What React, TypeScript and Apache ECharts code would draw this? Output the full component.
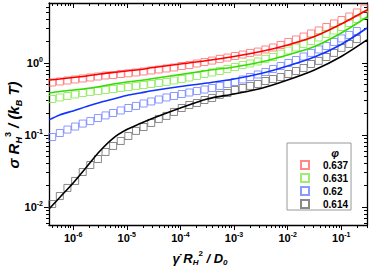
import React, { useEffect, useRef } from 'react';
import * as echarts from 'echarts';

// ---- data ----
const markerShear = [4.07e-7, 5.65e-7, 7.83e-7, 1.09e-6, 1.51e-6, 2.09e-6, 2.9e-6, 4.02e-6, 5.57e-6, 7.73e-6, 1.07e-5, 1.49e-5, 2.06e-5, 2.86e-5, 3.96e-5, 5.5e-5, 7.62e-5, 1.06e-4, 1.47e-4, 2.03e-4, 2.82e-4, 3.91e-4, 5.42e-4, 7.52e-4, 1.04e-3, 1.45e-3, 2.0e-3, 2.78e-3, 3.85e-3, 5.35e-3, 7.41e-3, 1.03e-2, 1.43e-2, 1.98e-2, 2.74e-2, 3.8e-2, 5.27e-2, 7.31e-2, 0.101, 0.141, 0.195, 0.27];

const sigma637 = [0.536, 0.553, 0.571, 0.59, 0.609, 0.629, 0.649, 0.67, 0.681, 0.703, 0.719, 0.738, 0.762, 0.787, 0.812, 0.839, 0.866, 0.908, 0.938, 0.984, 1.03, 1.08, 1.14, 1.19, 1.25, 1.31, 1.38, 1.44, 1.54, 1.64, 1.78, 1.96, 2.12, 2.33, 2.57, 2.83, 3.16, 3.54, 3.95, 4.42, 5.03, 5.71];
const sigma631 = [0.316, 0.332, 0.348, 0.365, 0.383, 0.396, 0.408, 0.422, 0.435, 0.45, 0.464, 0.48, 0.495, 0.511, 0.527, 0.545, 0.571, 0.599, 0.629, 0.66, 0.703, 0.738, 0.774, 0.826, 0.88, 0.938, 0.984, 1.05, 1.14, 1.21, 1.35, 1.49, 1.64, 1.84, 2.02, 2.26, 2.53, 2.83, 3.16, 3.59, 4.08, 4.64];
const sigma62 = [0.0938, 0.1066, 0.119, 0.131, 0.144, 0.156, 0.172, 0.187, 0.202, 0.219, 0.237, 0.253, 0.274, 0.292, 0.311, 0.332, 0.348, 0.371, 0.389, 0.408, 0.428, 0.45, 0.48, 0.511, 0.545, 0.59, 0.639, 0.692, 0.75, 0.826, 0.908, 1.0, 1.1, 1.23, 1.38, 1.54, 1.72, 1.96, 2.19, 2.45, 2.78];
const sigma614 = [0.011, 0.0142, 0.0184, 0.023, 0.0306, 0.0383, 0.0464, 0.0581, 0.0704, 0.0826, 0.0969, 0.114, 0.129, 0.147, 0.167, 0.184, 0.209, 0.237, 0.261, 0.278, 0.306, 0.327, 0.36, 0.383, 0.422, 0.45, 0.48, 0.511, 0.562, 0.599, 0.639, 0.703, 0.774, 0.853, 0.968, 1.07, 1.21, 1.38, 1.62, 1.84, 2.15];

const fitShear = [3.55e-7, 5.62e-7, 1e-6, 1.78e-6, 3.16e-6, 5.62e-6, 1e-5, 1.78e-5, 3.16e-5, 1e-4, 3.16e-4, 1e-3, 3.16e-3, 1e-2, 3.16e-2, 0.1, 0.302];
const fit637 = [0.58, 0.599, 0.629, 0.66, 0.703, 0.738, 0.774, 0.812, 0.866, 0.969, 1.08, 1.23, 1.44, 1.78, 2.33, 3.48, 5.44];
const fit631 = [0.383, 0.402, 0.422, 0.442, 0.472, 0.511, 0.545, 0.571, 0.609, 0.692, 0.787, 0.88, 1.03, 1.29, 1.69, 2.61, 4.35];
const fit62 = [0.162, 0.19, 0.216, 0.249, 0.283, 0.316, 0.354, 0.383, 0.415, 0.472, 0.527, 0.599, 0.715, 0.908, 1.21, 1.81, 3.06];
const fit614 = [0.00938, 0.01355, 0.0216, 0.036, 0.06, 0.0908, 0.119, 0.144, 0.172, 0.237, 0.316, 0.371, 0.442, 0.58, 0.799, 1.23, 2.09];

const phiNames = ['0.637', '0.631', '0.62', '0.614'];
const xDecades = [-6, -5, -4, -3, -2, -1];
const yDecades = [-2, -1, 0];

const X_MIN = -6.45, X_MAX = -0.52, Y_MIN = -2.25, Y_MAX = 0.833;
const FONT = "'Liberation Sans', Arial, sans-serif";

const lineColors = ['#ff0000', '#33dd00', '#1133ff', '#000000'];
const markColors = ['#ff6a6a', '#86e84e', '#6f80ff', '#6a6a6a'];

function minorTicks(min: number, max: number) {
  const out: number[] = [];
  for (let d = Math.floor(min) - 1; d <= Math.ceil(max); d++) {
    for (let k = 2; k <= 9; k++) {
      const v = d + Math.log10(k);
      if (v > min && v < max) out.push(v);
    }
  }
  return out;
}

const toLog = (xs: number[], ys: number[]) => ys.map((y, i) => [Math.log10(xs[i]), Math.log10(y)]);

const labelRich = {
  a: { fontFamily: FONT, fontWeight: 'bold', fontSize: 11, color: '#000', lineHeight: 14 },
  b: { fontFamily: FONT, fontWeight: 'bold', fontSize: 7, color: '#000', lineHeight: 8, verticalAlign: 'top' },
};

function axis(pos: string, min: number, max: number, ticks: number[], len: number, inside: boolean, labels: number[] | null, line: boolean, margin = 6) {
  return {
    type: 'value',
    position: pos,
    min,
    max,
    axisLine: { show: line, onZero: false, lineStyle: { color: '#000', width: 1.3 } },
    axisTick: { show: true, customValues: ticks, length: len, inside, lineStyle: { color: '#000', width: 1 } },
    axisLabel: labels
      ? { show: true, customValues: labels, margin, formatter: (v: number) => `{a|10}{b|${Math.round(v)}}`, rich: labelRich }
      : { show: false },
    splitLine: { show: false },
  };
}

export default function App() {
  const ref = useRef<HTMLDivElement>(null);
  useEffect(() => {
    if (!ref.current) return;
    const chart = echarts.init(ref.current, null, { renderer: 'svg' });
    const xMinor = minorTicks(X_MIN, X_MAX);
    const yMinor = minorTicks(Y_MIN, Y_MAX);
    const markerSets = [sigma637, sigma631, sigma62, sigma614];
    const fitSets = [fit637, fit631, fit62, fit614];

    const scatter = markerSets.map((ys, i) => ({
      name: phiNames[i],
      type: 'scatter',
      xAxisIndex: 0,
      yAxisIndex: 0,
      symbol: 'rect',
      symbolSize: 7,
      itemStyle: { color: 'rgba(255,255,255,0)', borderColor: markColors[i], borderWidth: 1 },
      data: toLog(markerShear, ys),
      z: 2,
    }));
    const lines = fitSets.map((ys, i) => ({
      name: 'fit ' + phiNames[i],
      type: 'line',
      xAxisIndex: 0,
      yAxisIndex: 0,
      showSymbol: false,
      smooth: 0.3,
      lineStyle: { color: lineColors[i], width: 1.6 },
      itemStyle: { color: lineColors[i] },
      data: toLog(fitShear, ys),
      z: 3,
    }));

    const sub = (size: number) => ({ fontFamily: FONT, fontWeight: 'bold', fontStyle: 'italic', fontSize: size, fill: '#000', lineHeight: size + 1, verticalAlign: 'bottom' });
    const sup = (size: number) => ({ fontFamily: FONT, fontWeight: 'bold', fontSize: size, fill: '#000', lineHeight: size + 1, verticalAlign: 'top' });

    chart.setOption({
      animation: false,
      grid: { left: 49, right: 4, top: 3, bottom: 43 },
      xAxis: [
        axis('bottom', X_MIN, X_MAX, xDecades, 5, false, xDecades, true, 6),
        axis('bottom', X_MIN, X_MAX, xMinor, 3, false, null, false),
        axis('top', X_MIN, X_MAX, xDecades, 5, true, null, true),
        axis('top', X_MIN, X_MAX, xMinor, 3, true, null, false),
      ],
      yAxis: [
        axis('left', Y_MIN, Y_MAX, yDecades, 5, false, yDecades, true, 6),
        axis('left', Y_MIN, Y_MAX, yMinor, 3, false, null, false),
        axis('right', Y_MIN, Y_MAX, yDecades, 5, true, null, true),
        axis('right', Y_MIN, Y_MAX, yMinor, 3, true, null, false),
      ],
      legend: {
        data: phiNames,
        orient: 'vertical',
        left: 287,
        top: 143,
        itemWidth: 8,
        itemHeight: 8,
        itemGap: 1,
        padding: [16, 3, 0, 13],
        borderColor: '#999',
        borderWidth: 1,
        textStyle: { fontFamily: FONT, fontSize: 10, fontWeight: 'bold', color: '#000', lineHeight: 12, padding: [0, 0, 0, 9] },
      },
      graphic: [
        {
          type: 'text',
          x: 335,
          y: 153,
          style: { text: 'φ', font: `italic bold 11px ${FONT}`, fill: '#000', align: 'center', verticalAlign: 'middle' },
        },
        {
          type: 'text',
          x: 13,
          y: 125,
          rotation: Math.PI / 2,
          style: {
            text: '{m|σ R}{h|H}{s|3}{m| / (k}{d|B}{m| T)}',
            align: 'center',
            verticalAlign: 'middle',
            rich: {
              m: { fontFamily: FONT, fontWeight: 'bold', fontStyle: 'italic', fontSize: 15, fill: '#000', lineHeight: 20 },
              h: sub(9),
              s: sup(9),
              d: sub(9),
            },
          },
        },
        {
          type: 'text',
          x: 200,
          y: 258,
          style: {
            text: '{m|γ\u0307 R}{h|H}{s|2}{m| / D}{d|0}',
            align: 'center',
            verticalAlign: 'middle',
            rich: {
              m: { fontFamily: FONT, fontWeight: 'bold', fontStyle: 'italic', fontSize: 13, fill: '#000', lineHeight: 17 },
              h: sub(8),
              s: sup(8),
              d: sub(8),
            },
          },
        },
      ],
      series: [...scatter, ...lines],
    });
    return () => chart.dispose();
  }, []);
  return <div ref={ref} style={{ width: 371, height: 268, position: 'absolute', left: 0, top: 0 }} />;
}
